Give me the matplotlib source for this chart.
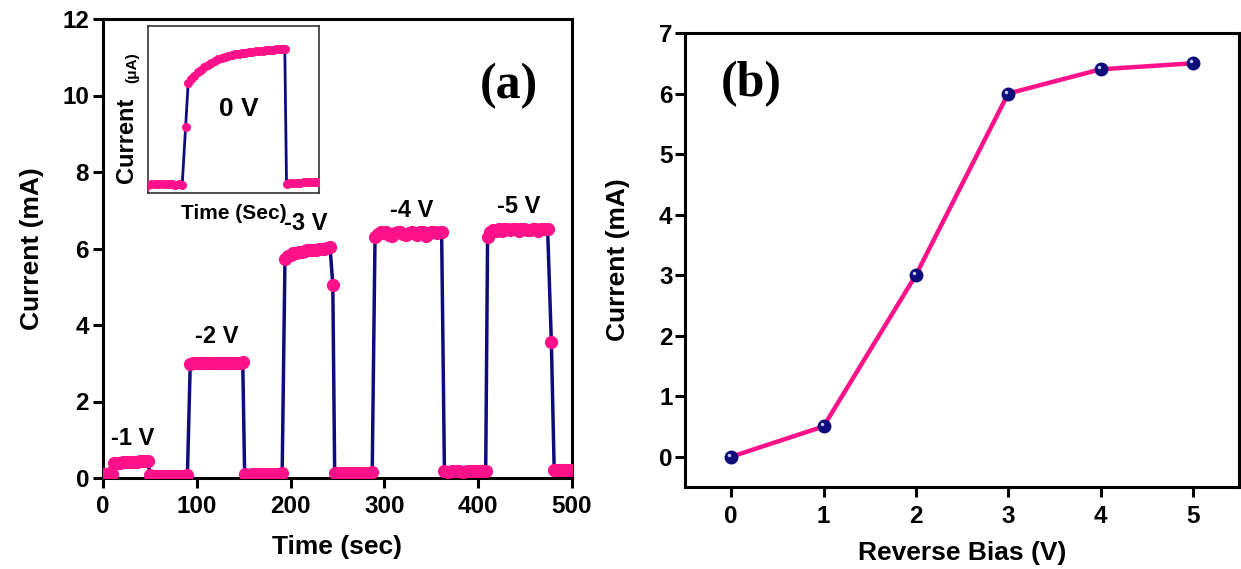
import numpy as np
import matplotlib
matplotlib.use("Agg")
import matplotlib.pyplot as plt
from matplotlib.transforms import offset_copy

plt.rcParams['font.family'] = ['Liberation Sans', 'DejaVu Sans']
plt.rcParams['font.weight'] = 'bold'
plt.rcParams['axes.labelweight'] = 'bold'

PINK = '#ff1289'
NAVY = '#0c0c7a'

# (a) photocurrent vs time at different reverse biases
time_s = [1, 4, 7, 10,
          12, 15, 18, 21, 24, 27, 30, 33, 36, 39, 42, 45, 48,
          50, 54, 58, 62, 66, 70, 74, 78, 82, 86, 90,
          93, 96, 99, 102, 105, 108, 111, 114, 117, 120, 123, 126, 129, 132, 135, 138, 141, 144, 147, 149,
          151, 155, 159, 163, 167, 171, 175, 179, 183, 187, 191,
          194, 197, 200, 203, 206, 209, 212, 215, 218, 221, 224, 227, 230, 233, 236, 239, 242,
          245,
          247, 251, 255, 259, 263, 267, 271, 275, 279, 283, 287,
          290, 293, 296, 299, 302, 305, 308, 311, 314, 317, 320, 323, 326, 329, 332, 335, 338, 341, 344,
          347, 350, 353, 356, 359, 361,
          364, 368, 372, 376, 380, 384, 388, 392, 396, 400, 404, 408,
          410, 413, 416, 419, 422, 425, 428, 431, 434, 437, 440, 443, 446, 449, 452, 455, 458, 461, 464,
          467, 470, 474,
          478,
          481, 485, 489, 493, 497, 500]
current_ma = [0.10, 0.11, 0.12, 0.10,
              0.38, 0.39, 0.40, 0.41, 0.42, 0.42, 0.42, 0.43, 0.43, 0.44, 0.44, 0.44, 0.45,
              0.07, 0.06, 0.06, 0.05, 0.06, 0.05, 0.05, 0.06, 0.05, 0.06, 0.07,
              2.99, 3.00, 3.01, 3.00, 3.01, 3.00, 3.01, 3.01, 3.00, 3.01, 3.01, 3.00, 3.01, 3.00, 3.01, 3.01,
              3.00, 3.01, 3.00, 3.02,
              0.10, 0.09, 0.10, 0.11, 0.10, 0.10, 0.11, 0.10, 0.11, 0.10, 0.12,
              5.72, 5.80, 5.84, 5.87, 5.89, 5.91, 5.92, 5.93, 5.95, 5.95, 5.96, 5.97, 5.98, 5.99, 6.00,
              6.02, 6.05,
              5.05,
              0.12, 0.13, 0.12, 0.14, 0.13, 0.13, 0.14, 0.13, 0.14, 0.14, 0.15,
              6.30, 6.38, 6.42, 6.40, 6.43, 6.36, 6.33, 6.40, 6.43, 6.42, 6.38, 6.34, 6.41, 6.43, 6.40,
              6.36, 6.42, 6.43, 6.32, 6.38, 6.43, 6.42, 6.40, 6.43, 6.44,
              0.17, 0.16, 0.17, 0.18, 0.17, 0.16, 0.18, 0.17, 0.18, 0.17, 0.18, 0.19,
              6.30, 6.42, 6.48, 6.47, 6.50, 6.46, 6.50, 6.51, 6.48, 6.50, 6.51, 6.47, 6.50, 6.52, 6.49,
              6.48, 6.51, 6.50, 6.47, 6.50, 6.51, 6.50,
              3.55,
              0.22, 0.21, 0.22, 0.21, 0.22, 0.21]

bias_labels = ['-1 V', '-2 V', '-3 V', '-4 V', '-5 V']
bias_label_t = [32, 121, 216, 329, 443]
bias_label_i = [1.02, 3.7, 6.65, 6.99, 7.09]

# inset: 0 V response (arbitrary units)
inset_t = [0, 2, 4, 6, 8, 10, 12, 14, 16, 18, 20,
           22, 23.5, 25, 27, 29, 31, 33, 35, 37, 39, 41, 43, 45, 47, 49, 51, 53, 55, 57, 59, 61,
           63, 65, 67, 69, 71, 73, 75, 77, 79, 80,
           81, 83, 85, 87, 89, 91, 93, 95, 97, 99, 100]
inset_i = [5.0, 5.3, 5.1, 5.4, 5.2, 5.5, 5.3, 5.1, 4.8, 5.2, 5.0,
           39.7, 66.0, 68.0, 70.3, 72.2, 73.8, 75.2, 76.7, 78.0, 79.0, 80.0, 80.7, 81.4, 82.0, 82.5,
           83.0, 83.4, 83.8, 84.0, 84.3, 84.6, 84.9, 85.1, 85.3, 85.5, 85.8, 85.9, 86.0, 86.2, 86.4, 86.5,
           5.6, 5.8, 5.9, 6.1, 6.2, 6.3, 6.4, 6.5, 6.6, 6.7, 6.8]

# (b) current vs reverse bias
bias_v = [0, 1, 2, 3, 4, 5]
bias_current = [0.0, 0.5, 3.0, 6.0, 6.4, 6.5]

W, H = 1241, 569
fig = plt.figure(figsize=(W / 100, H / 100), dpi=100)

def px_axes(l, t, r, b):
    return fig.add_axes([l / W, 1 - b / H, (r - l) / W, (b - t) / H])

def style(ax):
    for s in ax.spines.values():
        s.set_linewidth(2.2)
    ax.tick_params(direction='out', length=7, width=2.2, labelsize=17.5)

# ---- panel a
ax1 = px_axes(103, 19, 572, 478)
style(ax1)
ax1.tick_params(axis='x', pad=5)
ax1.tick_params(axis='y', pad=3)
ax1.plot(time_s, current_ma, color=NAVY, lw=2.5, zorder=2)
ax1.plot(time_s, current_ma, ls='none', marker='o', ms=8.5, mfc=PINK, mec=PINK, zorder=3)
ax1.set_xlim(0, 500)
ax1.set_ylim(0, 12)
ax1.set_xticks([0, 100, 200, 300, 400, 500])
ax1.set_yticks([0, 2, 4, 6, 8, 10, 12])
ax1.set_xlabel('Time (sec)', fontsize=19)
ax1.set_ylabel('Current (mA)', fontsize=19)
ax1.xaxis.set_label_coords(0.5, -0.125)
ax1.yaxis.set_label_coords(-0.125, 0.5)
for lab, t, i in zip(bias_labels, bias_label_t, bias_label_i):
    ax1.text(t, i, lab, fontsize=17, ha='center', va='center')
ax1.text(433, 10.25, '(a)', family='Liberation Serif', fontsize=36, ha='center', va='center')

# inset
axi = px_axes(148, 26, 319, 193)
axi.plot(inset_t, inset_i, color=NAVY, lw=2, zorder=2)
axi.plot(inset_t, inset_i, ls='none', marker='o', ms=5.5, mfc=PINK, mec=PINK, zorder=3)
axi.set_xlim(0, 100)
axi.set_ylim(0, 100)
axi.set_xticks([])
axi.set_yticks([])
for s in axi.spines.values():
    s.set_linewidth(1.2)
    s.set_color('#333333')
axi.text(53, 50, '0 V', fontsize=19, ha='center', va='center')
fig.text(127 / W, 1 - 140 / H, 'Current', fontsize=17, rotation=90, ha='center', va='center')
fig.text(132 / W, 1 - 68 / H, '(\u03bcA)', fontsize=11, rotation=90, ha='center', va='center')
fig.text(234 / W, 1 - 213 / H, 'Time (Sec)', fontsize=15, ha='center', va='center')

# ---- panel b
ax2 = px_axes(685, 33, 1239, 487)
style(ax2)
ax2.tick_params(axis='x', pad=6)
ax2.tick_params(axis='y', pad=2)
ax2.plot(bias_v, bias_current, color=PINK, lw=3.2, zorder=2)
ax2.plot(bias_v, bias_current, ls='none', marker='o', ms=9, mfc=NAVY, mec=NAVY, zorder=3)
hl = offset_copy(ax2.transData, fig=fig, x=-2, y=2, units='dots')
ax2.plot(bias_v, bias_current, ls='none', marker='o', ms=2.5, mfc='#c8c8f0', mec='none',
         transform=hl, zorder=4)
ax2.set_xlim(-0.5, 5.5)
ax2.set_ylim(-0.5, 7)
ax2.set_xticks(bias_v)
ax2.set_yticks([0, 1, 2, 3, 4, 5, 6, 7])
ax2.set_xlabel('Reverse Bias (V)', fontsize=19)
ax2.set_ylabel('Current (mA)', fontsize=19)
ax2.xaxis.set_label_coords(0.5, -0.118)
ax2.yaxis.set_label_coords(-0.1, 0.5)
ax2.text(0.22, 6.15, '(b)', family='Liberation Serif', fontsize=36, ha='center', va='center')

fig.savefig('out.png', dpi=100)
